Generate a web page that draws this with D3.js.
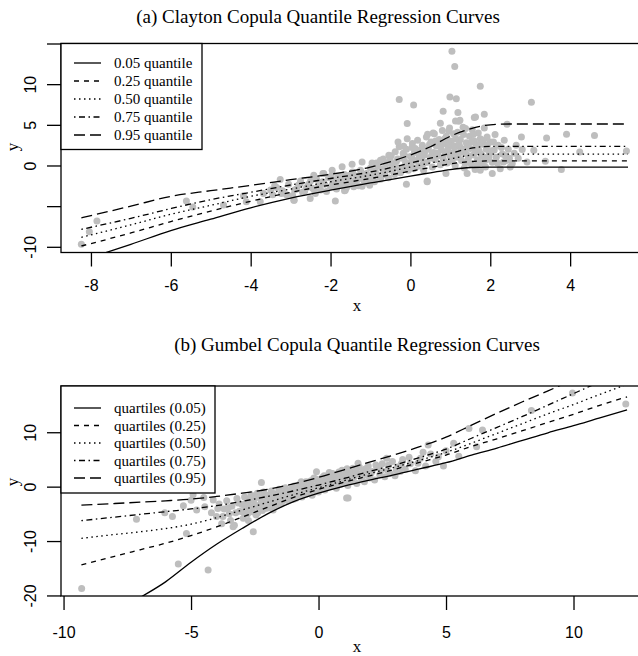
<!DOCTYPE html>
<html><head><meta charset="utf-8">
<script src="https://cdn.jsdelivr.net/npm/d3@7"></script>
<style>body{margin:0;background:#fff}svg{display:block}</style>
</head><body>
<script>
// ---------- DATA ----------
const quantileNamesA = ["0.05 quantile","0.25 quantile","0.50 quantile","0.75 quantile","0.95 quantile"];
const quantileNamesB = ["quartiles (0.05)","quartiles (0.25)","quartiles (0.50)","quartiles (0.75)","quartiles (0.95)"];

// Panel (a) Clayton curves
const curveXA = [-8.24,-7,-6,-5,-4,-3,-2,-1,0,0.5,1,1.5,2,2.5,5.45];
const q05A = [-11.7,-9.7,-8.0,-6.6,-5.2,-4.0,-3.03,-2.15,-1.3,-0.9,-0.5,-0.25,-0.2,-0.2,-0.2];
const q25A = [-9.9,-8.3,-6.9,-5.6,-4.4,-3.3,-2.4,-1.6,-0.7,-0.25,0.2,0.48,0.56,0.56,0.56];
const q50A = [-8.83,-7.3,-6.0,-4.9,-3.8,-2.9,-2.0,-1.2,-0.2,0.3,0.8,1.25,1.4,1.4,1.4];
const q75A = [-7.85,-6.5,-5.3,-4.2,-3.3,-2.4,-1.6,-0.8,0.3,0.9,1.5,2.1,2.35,2.35,2.35];
const q95A = [-6.43,-5.0,-3.8,-3.1,-2.45,-1.75,-1.07,-0.2,1.3,2.3,3.6,4.5,5.0,5.1,5.1];

// Panel (b) Gumbel curves
const curveXB = [-9.3,-8,-7,-6,-5,-4,-3,-2,-1,0,1,2,3,4,5,6,7,8,9,10,11,12.1];
const q05B = [-26.5,-23.2,-20.4,-17.5,-13.9,-10.6,-7.7,-5.0,-2.8,-1.2,0.1,1.2,2.2,3.3,4.4,5.8,7.1,8.5,9.9,11.2,12.6,14.1];
const q25B = [-14.4,-12.8,-11.6,-10.4,-9.0,-7.4,-5.6,-3.8,-2.0,-0.5,0.8,2.0,3.2,4.5,5.8,7.4,8.8,10.3,11.8,13.3,14.9,16.5];
const q50B = [-9.5,-8.8,-8.3,-7.7,-6.9,-5.7,-4.3,-2.9,-1.5,-0.2,1.1,2.4,3.6,4.9,6.3,8.0,9.8,11.6,13.4,15.1,16.9,18.8];
const q75B = [-6.25,-5.6,-5.1,-4.6,-4.1,-3.5,-2.7,-1.8,-0.8,0.3,1.5,2.8,4.0,5.4,6.9,8.9,10.9,12.9,15.0,17.1,19.2,21.4];
const q95B = [-3.4,-3.1,-2.85,-2.6,-2.3,-1.8,-1.2,-0.5,0.5,1.7,3.1,4.5,5.9,7.4,9.1,11.3,13.5,15.6,17.6,19.7,21.8,24.0];

// Scatter (a)
const pointsA = [
[-8.24,-9.7],[-8.04,-8.14],[-7.85,-6.83],[-5.61,-4.38],[-5.45,-5.1],[-4.68,-4.87],[-4.18,-3.72],[-4.11,-4.46],[-3.76,-4.46],[-3.68,-3.44],
[-3.26,-1.72],[-3.23,-3.44],[-2.92,-4.26],[-2.76,-2.2],[-2.51,-4.05],[-2.38,-3.44],[-2.19,-0.98],[-3.5,-3.0],[-3.4,-2.5],[-3.1,-3.6],
[-2.9,-3.0],[-2.8,-2.4],[-2.7,-3.3],[-2.6,-2.7],[-2.5,-1.9],[-2.4,-3.1],[-2.3,-2.5],[-2.2,-2.0],[-2.1,-3.2],[-2.05,-1.5],[-2.0,-2.6],[-1.95,-2.2],
[-1.9,-1.8],[-1.85,-2.9],[-1.8,-1.3],[-1.75,-2.4],[-1.7,-2.0],[-1.65,-1.1],[-1.6,-2.7],[-1.55,-1.6],[-1.5,-2.2],[-1.45,-0.8],[-1.4,-1.9],[-1.35,-1.3],
[-1.3,-2.5],[-1.25,-0.6],[-1.2,-1.6],[-1.15,-2.1],[-1.1,-1.0],[-1.05,-1.8],[-1.0,-0.3],[-0.95,-1.4],
[-0.9,-2.0],[-0.88,-0.7],[-0.85,0.3],[-0.8,-1.2],[-0.75,-1.7],[-0.7,-0.4],[-0.68,0.8],[-0.65,-1.0],[-0.6,0.2],[-0.55,-1.5],[-0.5,-0.6],[-0.48,1.2],
[-0.45,0.0],[-0.4,-1.1],[-0.38,1.7],[-0.35,0.5],[-0.3,-0.3],[-0.28,2.3],[-0.25,-0.9],[-0.2,0.9],[-0.18,1.5],[-0.15,-0.2],[-0.12,0.4],[-0.1,2.0],
[-0.05,-0.6],[0.0,1.1],[0.02,0.3],
[0.05,2.7],[0.08,-0.4],[0.1,1.6],[0.15,0.6],[0.18,3.1],[0.2,-0.1],[0.25,1.9],[0.28,0.9],[0.3,2.5],[0.33,-0.6],[0.35,1.3],[0.4,3.5],[0.42,0.4],
[0.45,2.1],[0.5,1.0],[0.52,2.9],[0.55,-0.2],[0.58,1.6],[0.6,3.9],[0.62,0.7],[0.65,2.4],[0.7,1.2],[0.72,3.2],[0.75,0.1],[0.78,1.9],[0.8,4.3],
[0.82,0.9],[0.85,2.7],[0.88,1.5],[0.9,3.6],[0.92,0.3],[0.95,2.2],[0.98,4.6],[1.0,1.1],
[1.02,2.9],[1.05,0.5],[1.08,3.9],[1.1,1.7],[1.12,0.0],[1.15,2.4],[1.18,4.1],[1.2,1.2],[1.25,3.2],[1.28,0.6],[1.3,2.0],[1.32,4.7],[1.35,-0.3],
[1.38,1.5],[1.4,2.8],[1.45,0.9],[1.48,3.6],[1.5,2.1],[1.52,0.2],[1.55,4.4],[1.58,1.3],[1.6,3.0],[1.62,-0.5],[1.65,2.4],[1.68,0.7],[1.7,4.0],
[1.72,1.8],[1.75,3.3],[1.78,0.3],[1.8,2.6],[1.82,1.1],[1.85,4.6],[1.88,-0.2],[1.9,2.0],[1.92,3.5],[1.95,0.8],[1.98,1.5],[2.0,2.9],
[2.05,0.4],[2.1,1.9],[2.12,3.8],[2.15,1.0],[2.2,2.5],[2.25,-0.4],[2.3,1.4],[2.35,3.1],[2.4,0.6],[2.45,2.0],[2.5,-0.2],
[1.04,14.06],[1.11,12.18],[1.75,9.73],[-0.28,8.1],[0.08,7.44],[0.99,8.42],[1.15,8.22],[3.03,7.77],[-0.08,5.15],[0.82,6.66],[1.19,6.5],
[1.85,6.3],[1.6,5.9],[0.75,5.2],[1.13,5.47],[1.24,5.56],[2.42,5.07],[2.78,3.5],[3.41,3.39],[3.91,3.84],[4.61,3.68],[5.41,1.79],[4.24,1.67],
[3.78,-0.49],[3.38,0.53],[3.09,1.88],[2.8,1.96],[2.92,0.44],[2.55,0.25],[2.33,0.44],[2.05,-0.98],[1.75,-0.58],[1.42,-0.98],[0.89,-0.98],
[0.42,-2.0],[-0.1,-2.3],[-1.88,-4.38],[-1.65,-3.12],[-1.21,-2.54],[0.43,3.84],[0.57,4.0],[0.96,4.25],[-0.31,2.9],[-0.08,3.3],[-0.17,2.37],
[0.04,2.2],[-1.21,0.44],[-0.96,0.32],[-0.54,1.26],[-0.75,0.65],[-1.71,-0.17],[-1.46,0.16],[-2.17,-0.98],[-1.96,-0.58],[-2.42,-1.19],
[0.42,-1.9],[-2.91,-4.26],[-1.63,-3.03],[-1.02,-2.42],[1.38,4.54],[1.63,5.96],[1.21,5.44],[0.55,1.5],[0.7,2.9],[1.0,3.0],[1.25,2.2],
[-3.45,-3.6],[-3.35,-2.7],[-3.2,-3.1],[-3.05,-2.3],[-2.95,-3.7],[-2.85,-2.9],[-2.75,-1.9],[-2.65,-3.2],[-2.55,-2.3],[-2.45,-2.8],[-2.35,-1.7],
[-2.25,-3.0],[-2.15,-2.3],[-1.98,-1.3],[-1.92,-2.5],[-1.82,-1.9],[-1.72,-1.5],[-1.62,-2.1],[-1.52,-1.2],[-1.42,-2.6],[-1.32,-1.7],[-1.22,-1.1],
[-1.12,-1.4],[-1.02,-2.0],[-0.92,-1.0],[-0.82,-0.1],[-0.72,-1.3],[-0.62,-0.5],[-0.52,0.6],[-0.42,-0.4],[-0.32,0.8],[-0.22,-0.5],[-0.14,1.2],
[-0.04,0.2],[0.04,0.9],[0.12,2.1],[0.22,1.2],[0.32,0.2],[0.38,1.8],[0.48,2.6],[0.56,0.9],[0.63,3.0],[0.68,1.5],[0.76,2.3],[0.84,0.5],[0.86,3.3],
[0.93,1.8],[0.97,2.6],[1.03,1.5],[1.07,2.4],[1.13,3.3],[1.17,1.0],[1.22,2.6],[1.27,1.7],[1.33,3.8],[1.37,0.3],[1.42,2.3],[1.47,1.2],[1.53,2.9],
[1.57,3.8],[1.63,1.8],[1.67,0.1],[1.73,2.6],[1.77,1.4],[1.83,3.1],[1.87,0.6],[1.93,2.5],[1.97,1.1],[2.03,1.8],[2.08,2.9],[2.18,0.3],[2.28,2.2],
[2.38,1.2],[2.48,0.9],[2.6,1.5],[2.7,0.9],[2.65,2.5]
];

// Scatter (b)
const pointsB = [
[-9.29,-18.7],[-7.14,-6.0],[-5.5,-14.2],[-4.33,-15.3],[-5.18,-8.6],[-6.03,-4.8],[-4.92,-1.5],[-4.46,-3.7],[-3.35,-7.35],[-2.56,-8.27],
[-5.73,-5.5],[-4.78,-4.3],[-4.13,-2.44],[1.1,-2.1],[4.3,7.65],[8.35,14.0],[9.96,17.2],[12.05,15.2],[1.55,4.3],[-2.24,0.74],
[-4.5,-2.0],[-4.2,-4.8],[-5.0,-2.5],[-5.3,-3.5],[-4.0,-5.5],[-3.9,-3.2],[-3.8,-6.8],[-3.7,-4.1],[-3.6,-2.6],[-3.5,-5.0],[-3.4,-3.6],
[-3.3,-7.1],[-3.2,-2.2],[-3.1,-4.5],
[-3.0,-3.3],[-2.95,-5.8],[-2.9,-1.9],[-2.85,-4.0],[-2.8,-2.8],[-2.75,-6.2],[-2.7,-3.6],[-2.65,-1.5],[-2.6,-4.6],[-2.55,-2.5],[-2.5,-3.3],
[-2.45,-5.2],[-2.4,-1.2],[-2.35,-3.9],[-2.3,-2.1],[-2.25,-2.9],[-2.2,-4.4],[-2.15,-1.0],[-2.1,-3.4],[-2.05,-2.3],
[-2.0,-1.6],[-1.95,-3.9],[-1.9,-2.7],[-1.85,-0.8],[-1.8,-3.2],[-1.75,-2.0],[-1.7,-1.3],[-1.65,-3.5],[-1.6,-2.4],[-1.55,-0.5],[-1.5,-1.8],
[-1.45,-2.9],[-1.4,-1.1],[-1.35,-2.2],[-1.3,-0.2],[-1.25,-1.6],[-1.2,-2.6],[-1.15,-0.9],[-1.1,-1.9],[-1.05,-0.4],[-1.0,-1.4],
[-0.95,0.1],[-0.9,-2.2],[-0.85,-0.8],[-0.8,-1.5],[-0.75,0.4],[-0.7,-0.3],[-0.65,-1.9],[-0.6,-1.0],[-0.55,0.8],[-0.5,-0.1],[-0.45,-1.3],
[-0.4,0.5],[-0.35,-0.6],[-0.3,1.1],[-0.25,-1.6],[-0.2,0.2],[-0.15,-0.7],[-0.1,1.4],[-0.05,0.3],[0,-1.0],
[0.05,0.7],[0.1,-0.2],[0.15,1.7],[0.2,0.9],[0.25,-0.6],[0.3,0.4],[0.35,2.0],[0.4,1.2],[0.45,0.0],[0.5,1.5],[0.55,2.4],[0.6,0.6],[0.65,1.8],
[0.7,-0.3],[0.75,1.1],[0.8,2.7],[0.85,0.4],[0.9,1.6],[0.95,2.2],[1.0,0.9],
[1.05,3.0],[1.1,1.4],[1.15,0.2],[1.2,2.0],[1.25,2.8],[1.3,1.0],[1.35,3.4],[1.4,1.8],[1.5,0.6],[1.55,2.4],[1.6,3.6],[1.7,1.4],[1.75,2.9],
[1.8,0.9],[1.9,2.2],[1.95,3.8],[2.0,1.6],
[2.1,2.8],[2.2,1.2],[2.3,3.5],[2.4,2.2],[2.5,4.2],[2.6,1.8],[2.7,3.0],[2.8,2.4],[2.9,4.6],[3.0,2.0],[3.1,3.6],[3.2,2.8],[3.3,5.0],[3.4,3.2],
[3.6,4.2],[3.8,2.9],[4.0,5.2],[4.2,3.8],[4.4,6.0],[4.6,4.6],[4.9,3.8],[5.0,6.6],[5.3,7.96],[5.5,5.6],[5.9,10.7],[6.2,7.35],[6.43,10.4],
[2.67,5.2],[1.16,-2.1],[-0.08,2.75],
[-3.95,-4.0],[-3.75,-5.5],[-3.55,-3.9],[-3.45,-6.2],[-3.25,-4.8],[-3.15,-3.0],[-2.98,-4.6],[-2.88,-3.2],[-2.78,-5.0],[-2.68,-2.4],[-2.58,-3.8],
[-2.48,-2.0],[-2.38,-4.8],[-2.28,-3.5],[-2.18,-1.8],[-2.08,-4.0],[-1.98,-2.9],[-1.88,-1.7],[-1.78,-4.3],[-1.68,-2.6],[-1.58,-1.5],[-1.48,-3.2],
[-1.38,-2.0],[-1.28,-0.9],[-1.18,-2.0],[-1.08,-1.2],[-0.98,-2.3],[-0.88,-0.3],[-0.78,-1.1],[-0.68,0.9],[-0.58,-0.6],[-0.48,0.9],[-0.38,-1.0],
[-0.28,0.1],[-0.18,1.6],[-0.08,-0.4],[0.02,1.2],[0.12,0.3],[0.22,2.0],[0.32,1.0],[0.42,2.6],[0.52,0.2],[0.62,2.0],[0.72,1.3],[0.82,1.9],
[0.92,3.0],[1.02,2.1],[1.12,3.3],[1.22,1.3],[1.32,2.4],[1.45,3.0],[1.65,2.2],[1.85,3.3],[2.05,2.4],[2.25,4.0],[2.45,3.0],[2.75,4.0],[3.05,3.0],
[3.25,4.2],[3.55,5.4],[3.9,4.3],[4.1,6.3],[4.7,5.5]
];

// Axis ticks
const xTicksA = [-8,-6,-4,-2,0,2,4];
const yTicksA = [-10,-5,0,5,10,15];
const yLabelsA = [-10,0,5,10];
const xTicksB = [-10,-5,0,5,10];
const yTicksB = [-20,-10,0,10];
const yLabelsB = [-20,-10,0,10];

// ---------- DRAW ----------
const W = 638, H = 656;
const svg = d3.select("body").append("svg").attr("width", W).attr("height", H);
const serif = "'Liberation Serif','Times New Roman',serif";
const sans = "'Liberation Sans',Arial,sans-serif";
const dashes = [null, "5,5", "1.5,3.5", "1.5,3.5,6,3.5", "11,5"];
const fmt = d => String(d);

function panel(cfg) {
  const g = svg.append("g");
  const x = d3.scaleLinear().domain(cfg.xDom).range([cfg.left, cfg.right]);
  const y = d3.scaleLinear().domain(cfg.yDom).range([cfg.bottom, cfg.top]);
  const clipId = "clip" + cfg.id;
  svg.append("clipPath").attr("id", clipId).append("rect")
    .attr("x", cfg.left).attr("y", cfg.top).attr("width", cfg.right - cfg.left).attr("height", cfg.bottom - cfg.top);

  g.append("text").attr("x", cfg.titleX).attr("y", cfg.titleY).attr("text-anchor", "middle")
    .attr("font-family", serif).attr("font-size", 19).text(cfg.title);

  const plot = g.append("g").attr("clip-path", `url(#${clipId})`);
  plot.selectAll("circle").data(cfg.points).join("circle")
    .attr("cx", d => x(d[0])).attr("cy", d => y(d[1])).attr("r", 3.5).attr("fill", "#bebebe");
  const line = d3.line().x(d => x(d[0])).y(d => y(d[1])).curve(d3.curveMonotoneX);
  cfg.curves.forEach((c, i) => {
    plot.append("path").datum(cfg.curveX.map((v, j) => [v, c[j]]))
      .attr("d", line).attr("fill", "none").attr("stroke", "#000").attr("stroke-width", 1.3)
      .attr("stroke-dasharray", dashes[i]);
  });

  const xAxis = d3.axisBottom(x).tickValues(cfg.xTicks).tickSize(14).tickFormat(fmt);
  const gx = g.append("g").attr("transform", `translate(0,${cfg.bottom})`).call(xAxis);
  gx.select(".domain").remove();
  gx.selectAll("line").attr("stroke", "#000").attr("stroke-width", 1.3);
  gx.selectAll("text").attr("font-family", sans).attr("font-size", 16).attr("fill", "#000")
    .attr("dy", null).attr("y", cfg.xLabelBase - cfg.bottom);

  const yAxis = d3.axisLeft(y).tickValues(cfg.yTicks).tickSize(14).tickFormat(d => cfg.yLabels.includes(d) ? fmt(d) : "");
  const gy = g.append("g").attr("transform", `translate(${cfg.left},0)`).call(yAxis);
  gy.select(".domain").remove();
  gy.selectAll("line").attr("stroke", "#000").attr("stroke-width", 1.3);
  gy.selectAll("text").attr("font-family", sans).attr("font-size", 16).attr("fill", "#000")
    .attr("x", null).attr("dy", null).attr("text-anchor", "middle")
    .attr("transform", `translate(${cfg.yLabelBase - cfg.left},0) rotate(-90)`);

  g.append("rect").attr("x", cfg.left).attr("y", cfg.top).attr("width", cfg.right - cfg.left)
    .attr("height", cfg.bottom - cfg.top).attr("fill", "none").attr("stroke", "#000").attr("stroke-width", 1.3);

  g.append("text").attr("x", cfg.xTitleX).attr("y", cfg.xTitleY).attr("text-anchor", "middle")
    .attr("font-family", serif).attr("font-size", 17).text("x");
  g.append("text").attr("transform", `translate(${cfg.yTitleX},${cfg.yTitleY}) rotate(-90)`)
    .attr("text-anchor", "middle").attr("font-family", serif).attr("font-size", 17).text("y");

  const lg = g.append("g");
  lg.append("rect").attr("x", cfg.left).attr("y", cfg.top).attr("width", cfg.legW).attr("height", cfg.legH)
    .attr("fill", "#fff").attr("stroke", "#000").attr("stroke-width", 1.3);
  cfg.names.forEach((n, i) => {
    const yy = cfg.legY0 + i * cfg.legDy;
    lg.append("line").attr("x1", 74).attr("x2", 101).attr("y1", yy).attr("y2", yy)
      .attr("stroke", "#000").attr("stroke-width", 1.3).attr("stroke-dasharray", dashes[i]);
    lg.append("text").attr("x", 114).attr("y", yy + 5).attr("font-family", serif).attr("font-size", 15).text(n);
  });
}

panel({
  id: "A", title: "(a) Clayton Copula Quantile Regression Curves", titleX: 318, titleY: 23,
  left: 61, right: 650, top: 43.5, bottom: 252.5,
  xDom: [-8.75, 6.0], yDom: [-10.7, 15],
  points: pointsA, curveX: curveXA, curves: [q05A, q25A, q50A, q75A, q95A],
  xTicks: xTicksA, yTicks: yTicksA, yLabels: yLabelsA,
  xLabelBase: 291, yLabelBase: 36,
  xTitleX: 357, xTitleY: 311, yTitleX: 18, yTitleY: 147,
  names: quantileNamesA, legW: 141, legH: 106, legY0: 63, legDy: 18
});

panel({
  id: "B", title: "(b) Gumbel Copula Quantile Regression Curves", titleX: 357, titleY: 351,
  left: 61, right: 650, top: 386, bottom: 596,
  xDom: [-10.1, 13.0], yDom: [-20.1, 18.5],
  points: pointsB, curveX: curveXB, curves: [q05B, q25B, q50B, q75B, q95B],
  xTicks: xTicksB, yTicks: yTicksB, yLabels: yLabelsB,
  xLabelBase: 638, yLabelBase: 36,
  xTitleX: 357, xTitleY: 652, yTitleX: 18, yTitleY: 482,
  names: quantileNamesB, legW: 154, legH: 107, legY0: 408, legDy: 17.5
});
</script>
</body></html>
